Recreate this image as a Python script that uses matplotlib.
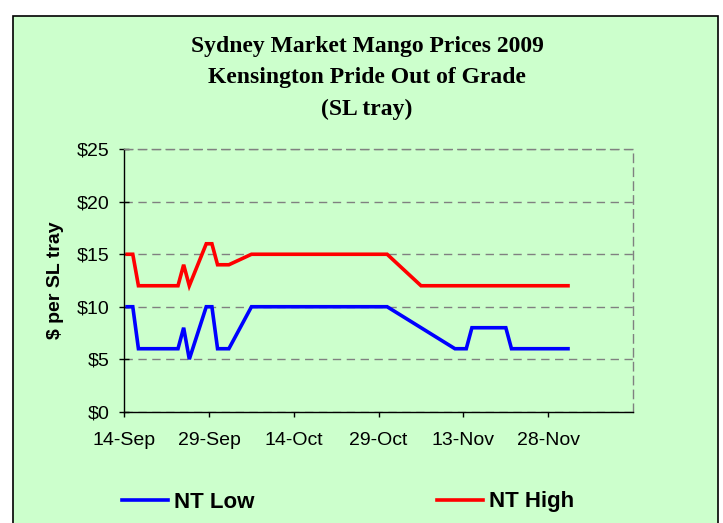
import matplotlib
matplotlib.use("Agg")
import matplotlib.pyplot as plt
from matplotlib.patches import Rectangle
import pandas as pd

# ---- data ----
dates = ["2009-09-14", "2009-09-15", "2009-09-16", "2009-09-23", "2009-09-24",
         "2009-09-25", "2009-09-28", "2009-09-29", "2009-09-30", "2009-10-02",
         "2009-10-06", "2009-10-09", "2009-10-13", "2009-10-16", "2009-10-20",
         "2009-10-23", "2009-10-27", "2009-10-30", "2009-11-05", "2009-11-11",
         "2009-11-13", "2009-11-14", "2009-11-20", "2009-11-21", "2009-11-28",
         "2009-12-01"]
nt_low = [10, 10, 6, 6, 8, 5, 10, 10, 6, 6, 10, 10, 10, 10, 10, 10, 10, 10,
          8, 6, 6, 8, 8, 6, 6, 6]
nt_high = [15, 15, 12, 12, 14, 12, 16, 16, 14, 14, 15, 15, 15, 15, 15, 15, 15,
           15, 12, 12, 12, 12, 12, 12, 12, 12]
tick_dates = ["2009-09-14", "2009-09-29", "2009-10-14", "2009-10-29",
              "2009-11-13", "2009-11-28"]
tick_labels = ["14-Sep", "29-Sep", "14-Oct", "29-Oct", "13-Nov", "28-Nov"]
y_ticks = [0, 5, 10, 15, 20, 25]
y_labels = ["$0", "$5", "$10", "$15", "$20", "$25"]
series_names = ["NT Low", "NT High"]
title_lines = ["Sydney Market Mango Prices 2009",
               "Kensington Pride Out of Grade",
               "(SL tray)"]

BG = "#CCFFCC"
W, H = 723, 523
fig = plt.figure(figsize=(W / 100, H / 100), dpi=100)
fig.patch.set_facecolor("white")

# chart area box
fig.add_artist(Rectangle((13 / W, -0.05), (718 - 13) / W, 1 - 16 / H + 0.05,
                         transform=fig.transFigure, facecolor=BG,
                         edgecolor="black", lw=1.2, zorder=0))

l, r, t, b = 124.3, 633, 149.3, 411.7
ax = fig.add_axes([l / W, 1 - b / H, (r - l) / W, (b - t) / H])
ax.set_facecolor(BG)

x = pd.to_datetime(dates) + pd.Timedelta(hours=12)
ax.plot(x, nt_low, color="#0000FF", lw=2.6, solid_joinstyle="miter", label=series_names[0])
ax.plot(x, nt_high, color="#FF0000", lw=2.6, solid_joinstyle="miter", label=series_names[1])

ax.set_xlim(pd.Timestamp("2009-09-14"), pd.Timestamp("2009-12-13"))
ax.set_ylim(0, 25)
ax.set_xticks(pd.to_datetime(tick_dates))
ax.set_xticklabels(tick_labels, fontsize=14, family="Liberation Sans")
ax.set_yticks(y_ticks)
ax.set_yticklabels(y_labels, fontsize=14, family="Liberation Sans")

ax.tick_params(axis="y", direction="inout", length=7.2, width=1, pad=7)
ax.tick_params(axis="x", direction="out", length=3.6, width=1, pad=11)

ax.grid(axis="y", color="#808080", lw=1, linestyle=(0, (6, 4)))
ax.set_axisbelow(True)
for s in ["top", "right"]:
    ax.spines[s].set_color("#808080")
    ax.spines[s].set_linestyle((0, (6, 4)))
    ax.spines[s].set_linewidth(1)
for s in ["left", "bottom"]:
    ax.spines[s].set_color("black")
    ax.spines[s].set_linewidth(1)

ax.set_ylabel("$ per SL tray", fontsize=14, fontweight="bold", family="Liberation Sans")
ax.yaxis.set_label_coords((64 - l) / (r - l), 0.5)

# title
for i, line in enumerate(title_lines):
    fig.text(367 / W, 1 - (51.7 + 31.7 * i) / H, line, ha="center", va="baseline",
             fontsize=17, fontweight="bold", family="Liberation Serif")

# legend
handles, labels = ax.get_legend_handles_labels()
leg = fig.legend(handles, labels, loc="center left",
                 bbox_to_anchor=(121.7 / W, 1 - 502 / H), ncol=2, frameon=False,
                 prop={"family": "Liberation Sans", "weight": "bold", "size": 16},
                 handlelength=2.1, handletextpad=0.25, columnspacing=8.2,
                 borderpad=0, borderaxespad=0)

fig.savefig("out.png", dpi=100, facecolor="white")
